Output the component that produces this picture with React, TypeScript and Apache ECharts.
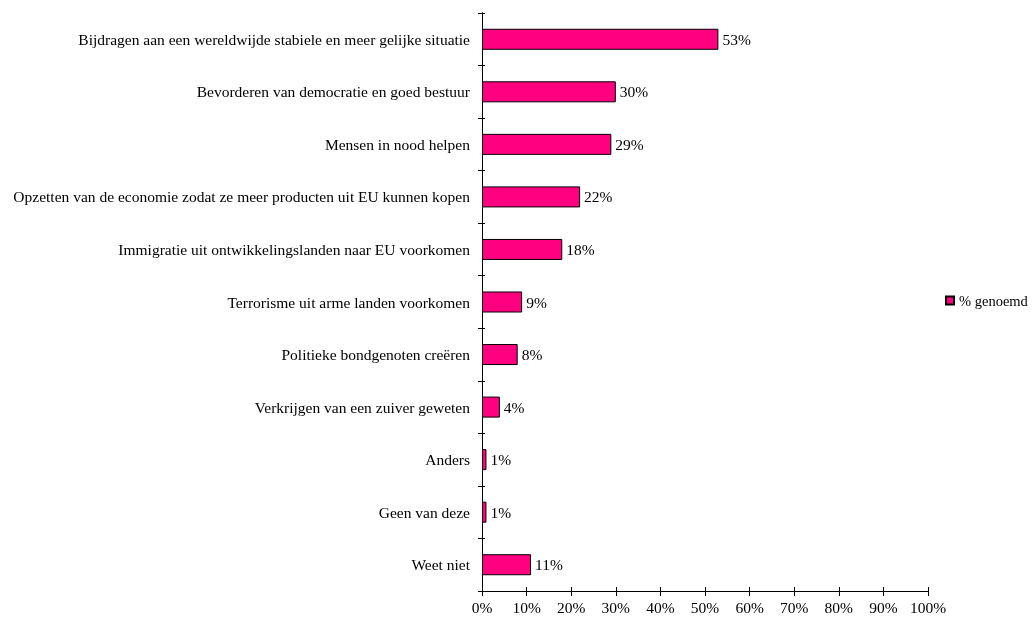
import React, { useEffect, useRef } from "react";
import * as echarts from "echarts";

const categories = [
  "Bijdragen aan een wereldwijde stabiele en meer gelijke situatie",
  "Bevorderen van democratie en goed bestuur",
  "Mensen in nood helpen",
  "Opzetten van de economie zodat ze meer producten uit EU kunnen kopen",
  "Immigratie uit ontwikkelingslanden naar EU voorkomen",
  "Terrorisme uit arme landen voorkomen",
  "Politieke bondgenoten creëren",
  "Verkrijgen van een zuiver geweten",
  "Anders",
  "Geen van deze",
  "Weet niet",
];
const values = [53, 30, 29, 22, 18, 9, 8, 4, 1, 1, 11];
const seriesName = "% genoemd";

const FONT = "Times New Roman, Liberation Serif, serif";
const FS = 15.5;

export default function App() {
  const ref = useRef<HTMLDivElement>(null);
  useEffect(() => {
    if (!ref.current) return;
    const chart = echarts.init(ref.current, undefined, { renderer: "svg" });
    const axisLine = { show: true, lineStyle: { color: "#000", width: 1 } };
    chart.setOption({
      animation: false,
      textStyle: { fontFamily: FONT },
      legend: {
        show: true,
        left: 940,
        top: 288,
        padding: 5,
        orient: "vertical",
        itemWidth: 8,
        itemHeight: 8,
        itemGap: 4,
        icon: "rect",
        textStyle: { fontFamily: FONT, fontSize: 14.5, color: "#000" },
        data: [seriesName],
      },
      grid: { left: 482, right: 106, top: 13, bottom: 32, containLabel: false },
      xAxis: [
        {
          type: "value",
          min: 0,
          max: 100,
          interval: 10,
          position: "bottom",
          axisLine,
          axisTick: { show: true, length: 5, lineStyle: { color: "#000" } },
          splitLine: { show: false },
          axisLabel: {
            formatter: "{value}%",
            color: "#000",
            fontFamily: FONT,
            fontSize: FS,
            margin: 8,
          },
        },
        {
          type: "value",
          min: 0,
          max: 100,
          interval: 10,
          position: "bottom",
          axisLine,
          axisTick: { show: true, inside: true, length: 4, lineStyle: { color: "#000" } },
          splitLine: { show: false },
          axisLabel: { show: false },
        },
      ],
      yAxis: [
        {
          type: "category",
          inverse: true,
          data: categories,
          position: "left",
          axisLine,
          axisTick: { show: true, length: 4, lineStyle: { color: "#000" } },
          axisLabel: {
            color: "#000",
            fontFamily: FONT,
            fontSize: FS,
            margin: 12,
          },
        },
        {
          type: "category",
          inverse: true,
          data: categories,
          position: "left",
          axisLine,
          axisTick: { show: true, inside: true, length: 3, lineStyle: { color: "#000" } },
          axisLabel: { show: false },
        },
      ],
      series: [
        {
          name: seriesName,
          type: "bar",
          data: values,
          xAxisIndex: 0,
          yAxisIndex: 0,
          barCategoryGap: "60%",
          itemStyle: { color: "#FF0080", borderColor: "#000", borderWidth: 1 },
          label: {
            show: true,
            position: "right",
            distance: 4,
            formatter: "{c}%",
            color: "#000",
            fontFamily: FONT,
            fontSize: FS,
          },
        },
      ],
    });
    return () => chart.dispose();
  }, []);
  return (
    <div
      ref={ref}
      style={{ position: "fixed", left: 0, top: 0, width: 1034, height: 623, margin: 0 }}
    />
  );
}
